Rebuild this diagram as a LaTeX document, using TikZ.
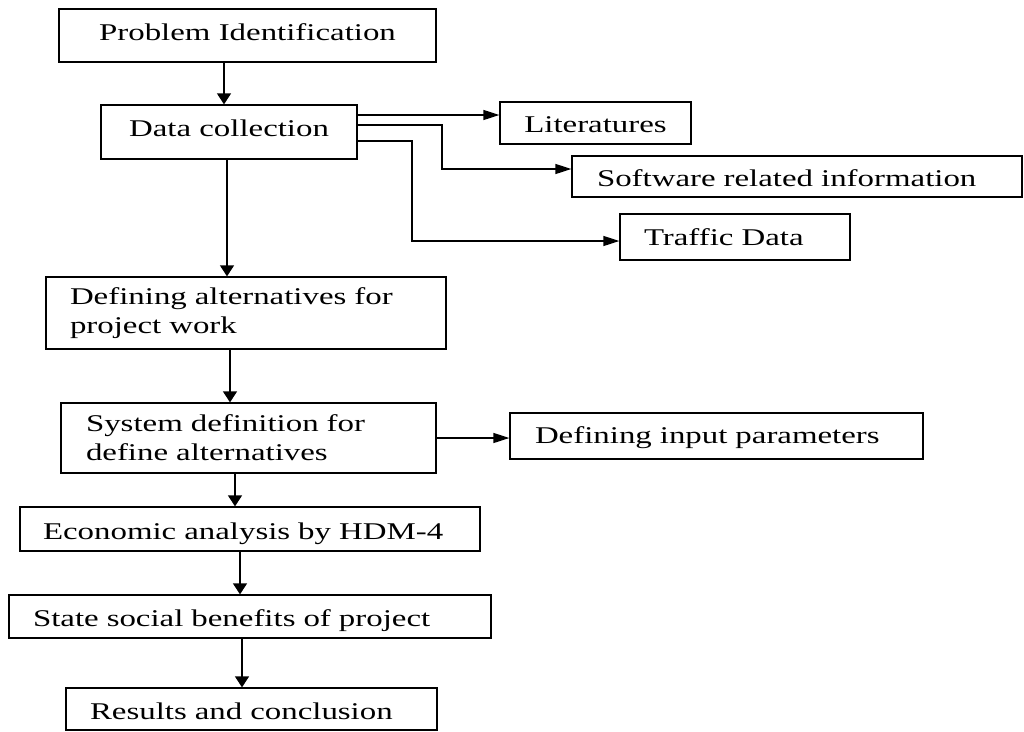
\documentclass[tikz,border=0pt]{standalone}
\usepackage{fontspec}
\setmainfont{Liberation Serif}[FakeStretch=1.37]
\usetikzlibrary{arrows.meta}
\begin{document}
\begin{tikzpicture}[x=1pt,y=-1pt,
  box/.style={draw, line width=1.3pt, inner sep=0pt, font=\fontsize{24}{29}\selectfont},
  one/.style={text height={13.6pt+#1}, text depth={13.6pt-#1}},
  one/.default=8pt,
  arrv/.style={line width=1.3pt, -{Triangle[length=11pt,width=14pt]}},
  arrh/.style={line width=1.3pt, -{Triangle[length=16pt,width=10pt]}}]
\useasboundingbox (0,0) rectangle (1024,731);
% boxes
\node[box, one=4.5pt, minimum width=377pt, minimum height=53pt] (pi) at (247.5,35.5) {Problem Identification};
\node[box, one=4pt, minimum width=256pt, minimum height=54pt] (dc) at (229,132) {Data collection};
\node[box, one=9pt, minimum width=191pt, minimum height=42pt] (lit) at (595.5,123) {Literatures};
\node[box, one=9.5pt, minimum width=450pt, minimum height=41pt, text width=400pt, align=left] (sw) at (797,176.5) {Software related information};
\node[box, one=8pt, minimum width=230pt, minimum height=46pt, text width=182pt, align=left] (td) at (735,237) {Traffic Data};
\node[box, minimum width=400pt, minimum height=72pt, text width=352pt, align=left] (da) at (246,313) {Defining alternatives for\\project work};
\node[box, minimum width=375pt, minimum height=70pt, text width=325pt, align=left] (sd) at (248.5,438) {System definition for\\define alternatives};
\node[box, one=7pt, minimum width=413pt, minimum height=46pt, text width=363pt, align=left] (ip) at (716.5,436) {Defining input parameters};
\node[box, one=10pt, minimum width=460pt, minimum height=44pt, text width=414pt, align=left] (ec) at (250,529) {Economic analysis by HDM-4};
\node[box, one=10pt, minimum width=482pt, minimum height=43pt, text width=434pt, align=left] (ss) at (250,616.5) {State social benefits of project};
\node[box, one=10pt, minimum width=371pt, minimum height=42pt, text width=323pt, align=left] (rc) at (251.5,709) {Results and conclusion};
% lanes
\coordinate (v1) at (224,0);
\coordinate (v2) at (227,0);
\coordinate (v3) at (230,0);
\coordinate (v4) at (235,0);
\coordinate (v5) at (240,0);
\coordinate (v6) at (242,0);
\coordinate (h1) at (0,115);
\coordinate (h2) at (0,125);
\coordinate (h3) at (0,141);
\coordinate (h4) at (0,169);
\coordinate (h5) at (0,241);
\coordinate (h6) at (0,438);
\coordinate (k1) at (442,0);
\coordinate (k2) at (412,0);
% connectors
\draw[arrv] (pi.south -| v1) -- (dc.north -| v1);
\draw[arrh] (dc.east |- h1) -- (lit.west |- h1);
\draw[arrh] (dc.east |- h2) -- (k1 |- h2) -- (k1 |- h4) -- (sw.west |- h4);
\draw[arrh] (dc.east |- h3) -- (k2 |- h3) -- (k2 |- h5) -- (td.west |- h5);
\draw[arrv] (dc.south -| v2) -- (da.north -| v2);
\draw[arrv] (da.south -| v3) -- (sd.north -| v3);
\draw[arrh] (sd.east |- h6) -- (ip.west |- h6);
\draw[arrv] (sd.south -| v4) -- (ec.north -| v4);
\draw[arrv] (ec.south -| v5) -- (ss.north -| v5);
\draw[arrv] (ss.south -| v6) -- (rc.north -| v6);
\end{tikzpicture}
\end{document}
